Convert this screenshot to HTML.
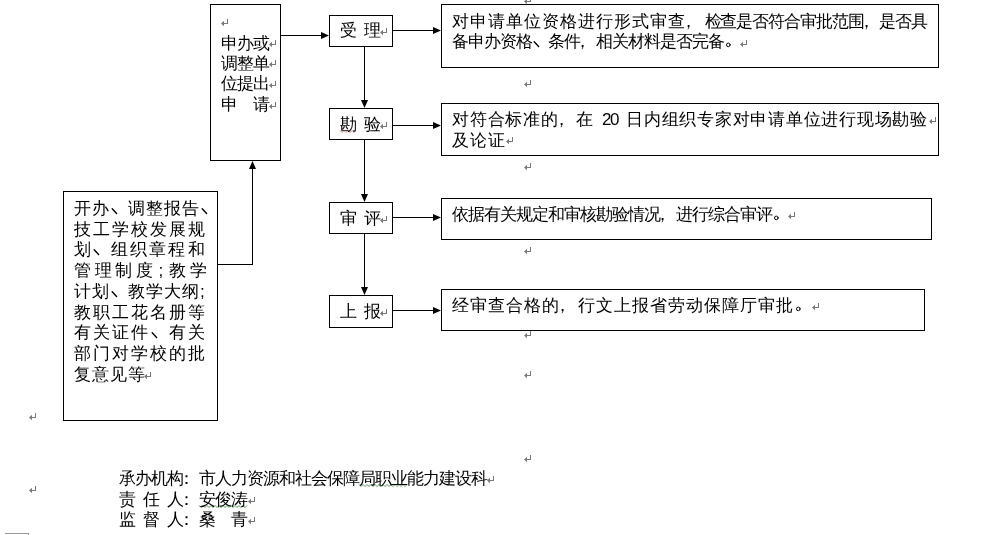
<!DOCTYPE html>
<html><head><meta charset="utf-8">
<style>
html,body{margin:0;padding:0;background:#fff;}
body{width:990px;height:535px;position:relative;overflow:hidden;font-family:"Liberation Sans",sans-serif;font-size:17px;line-height:20px;color:#000;}
b{position:absolute;font-weight:normal;white-space:pre;}
svg{position:absolute;left:0;top:0;}
.t{position:absolute;left:0;top:0;width:990px;height:535px;will-change:transform;}
</style></head><body>
<svg width="990" height="535" viewBox="0 0 990 535">
<g fill="#000" shape-rendering="crispEdges">
<rect x="210" y="4" width="71" height="1"/>
<rect x="210" y="160" width="71" height="1"/>
<rect x="210" y="4" width="1" height="157"/>
<rect x="280" y="4" width="1" height="157"/>
<rect x="63" y="191" width="155" height="1"/>
<rect x="63" y="420" width="155" height="1"/>
<rect x="63" y="191" width="1" height="230"/>
<rect x="217" y="191" width="1" height="230"/>
<rect x="329" y="15" width="64" height="1"/>
<rect x="329" y="46" width="64" height="1"/>
<rect x="329" y="15" width="1" height="32"/>
<rect x="392" y="15" width="1" height="32"/>
<rect x="329" y="108" width="64" height="1"/>
<rect x="329" y="139" width="64" height="1"/>
<rect x="329" y="108" width="1" height="32"/>
<rect x="392" y="108" width="1" height="32"/>
<rect x="329" y="202" width="64" height="1"/>
<rect x="329" y="233" width="64" height="1"/>
<rect x="329" y="202" width="1" height="32"/>
<rect x="392" y="202" width="1" height="32"/>
<rect x="329" y="295" width="64" height="1"/>
<rect x="329" y="327" width="64" height="1"/>
<rect x="329" y="295" width="1" height="33"/>
<rect x="392" y="295" width="1" height="33"/>
<rect x="441" y="4" width="498" height="1"/>
<rect x="441" y="67" width="498" height="1"/>
<rect x="441" y="4" width="1" height="64"/>
<rect x="938" y="4" width="1" height="64"/>
<rect x="441" y="103" width="498" height="1"/>
<rect x="441" y="155" width="498" height="1"/>
<rect x="441" y="103" width="1" height="53"/>
<rect x="938" y="103" width="1" height="53"/>
<rect x="441" y="198" width="491" height="1"/>
<rect x="441" y="239" width="491" height="1"/>
<rect x="441" y="198" width="1" height="42"/>
<rect x="931" y="198" width="1" height="42"/>
<rect x="441" y="289" width="484" height="1"/>
<rect x="441" y="330" width="484" height="1"/>
<rect x="441" y="289" width="1" height="42"/>
<rect x="924" y="289" width="1" height="42"/>
<rect x="280" y="35" width="43" height="1"/>
<polygon shape-rendering="geometricPrecision" points="321,32.0 329,35.5 321,39.0"/>
<rect x="392" y="30" width="43" height="1"/>
<polygon shape-rendering="geometricPrecision" points="433,27.0 441,30.5 433,34.0"/>
<rect x="392" y="125" width="43" height="1"/>
<polygon shape-rendering="geometricPrecision" points="433,122.0 441,125.5 433,129.0"/>
<rect x="392" y="217" width="43" height="1"/>
<polygon shape-rendering="geometricPrecision" points="433,214.0 441,217.5 433,221.0"/>
<rect x="392" y="310" width="43" height="1"/>
<polygon shape-rendering="geometricPrecision" points="433,307.0 441,310.5 433,314.0"/>
<rect x="364" y="46" width="1" height="56"/>
<polygon shape-rendering="geometricPrecision" points="361.0,100 364.5,108 368.0,100"/>
<rect x="364" y="139" width="1" height="57"/>
<polygon shape-rendering="geometricPrecision" points="361.0,194 364.5,202 368.0,194"/>
<rect x="364" y="233" width="1" height="56"/>
<polygon shape-rendering="geometricPrecision" points="361.0,287 364.5,295 368.0,287"/>
<rect x="217" y="264" width="36" height="1"/>
<rect x="252" y="166" width="1" height="99"/>
<polygon shape-rendering="geometricPrecision" points="249.0,169 252.5,161 256.0,169"/>
</g>
<g fill="#7a7a7a"><rect x="275" y="40" width="1" height="5"/><rect x="271" y="44" width="5" height="1"/><polygon points="269,44.5 272,41.8 272,47.2"/><rect x="275" y="60" width="1" height="5"/><rect x="271" y="64" width="5" height="1"/><polygon points="269,64.5 272,61.8 272,67.2"/><rect x="275" y="81" width="1" height="5"/><rect x="271" y="85" width="5" height="1"/><polygon points="269,85.5 272,82.8 272,88.2"/><rect x="275" y="102" width="1" height="5"/><rect x="271" y="106" width="5" height="1"/><polygon points="269,106.5 272,103.8 272,109.2"/><rect x="227" y="19" width="1" height="5"/><rect x="223" y="23" width="5" height="1"/><polygon points="221,23.5 224,20.8 224,26.2"/><rect x="150" y="372" width="1" height="5"/><rect x="146" y="376" width="5" height="1"/><polygon points="144,376.5 147,373.8 147,379.2"/><rect x="386" y="28" width="1" height="5"/><rect x="382" y="32" width="5" height="1"/><polygon points="380,32.5 383,29.8 383,35.2"/><rect x="386" y="122" width="1" height="5"/><rect x="382" y="126" width="5" height="1"/><polygon points="380,126.5 383,123.8 383,129.2"/><rect x="386" y="216" width="1" height="5"/><rect x="382" y="220" width="5" height="1"/><polygon points="380,220.5 383,217.8 383,223.2"/><rect x="386" y="309" width="1" height="5"/><rect x="382" y="313" width="5" height="1"/><polygon points="380,313.5 383,310.8 383,316.2"/><rect x="746" y="40" width="1" height="5"/><rect x="742" y="44" width="5" height="1"/><polygon points="740,44.5 743,41.8 743,47.2"/><rect x="935" y="117" width="1" height="5"/><rect x="931" y="121" width="5" height="1"/><polygon points="929,121.5 932,118.8 932,124.2"/><rect x="512" y="137" width="1" height="5"/><rect x="508" y="141" width="5" height="1"/><polygon points="506,141.5 509,138.8 509,144.2"/><rect x="794" y="212" width="1" height="5"/><rect x="790" y="216" width="5" height="1"/><polygon points="788,216.5 791,213.8 791,219.2"/><rect x="818" y="303" width="1" height="5"/><rect x="814" y="307" width="5" height="1"/><polygon points="812,307.5 815,304.8 815,310.2"/><rect x="493" y="476" width="1" height="5"/><rect x="489" y="480" width="5" height="1"/><polygon points="487,480.5 490,477.8 490,483.2"/><rect x="254" y="497" width="1" height="5"/><rect x="250" y="501" width="5" height="1"/><polygon points="248,501.5 251,498.8 251,504.2"/><rect x="254" y="517" width="1" height="5"/><rect x="250" y="521" width="5" height="1"/><polygon points="248,521.5 251,518.8 251,524.2"/><rect x="530" y="-3" width="1" height="5"/><rect x="526" y="1" width="5" height="1"/><polygon points="524,1.5 527,-1.2 527,4.2"/><rect x="530" y="80" width="1" height="5"/><rect x="526" y="84" width="5" height="1"/><polygon points="524,84.5 527,81.8 527,87.2"/><rect x="530" y="163" width="1" height="5"/><rect x="526" y="167" width="5" height="1"/><polygon points="524,167.5 527,164.8 527,170.2"/><rect x="530" y="247" width="1" height="5"/><rect x="526" y="251" width="5" height="1"/><polygon points="524,251.5 527,248.8 527,254.2"/><rect x="530" y="331" width="1" height="5"/><rect x="526" y="335" width="5" height="1"/><polygon points="524,335.5 527,332.8 527,338.2"/><rect x="530" y="371" width="1" height="5"/><rect x="526" y="375" width="5" height="1"/><polygon points="524,375.5 527,372.8 527,378.2"/><rect x="530" y="455" width="1" height="5"/><rect x="526" y="459" width="5" height="1"/><polygon points="524,459.5 527,456.8 527,462.2"/><rect x="35" y="413" width="1" height="5"/><rect x="31" y="417" width="5" height="1"/><polygon points="29,417.5 32,414.8 32,420.2"/><rect x="35" y="486" width="1" height="5"/><rect x="31" y="490" width="5" height="1"/><polygon points="29,490.5 32,487.8 32,493.2"/></g>
<polyline points="359,484.5 361,486.5 363,484.5 365,486.5 367,484.5 369,486.5 371,484.5 373,486.5 375,484.5 377,486.5 379,484.5 381,486.5 383,484.5 385,486.5 387,484.5 389,486.5 391,484.5 393,486.5 395,484.5 397,486.5 399,484.5 401,486.5 403,484.5 405,486.5 407,484.5" fill="none" stroke="#5a9a5a" stroke-width="1"/>
<polyline points="199,505.5 201,507.5 203,505.5 205,507.5 207,505.5 209,507.5 211,505.5 213,507.5 215,505.5 217,507.5 219,505.5 221,507.5 223,505.5 225,507.5 227,505.5 229,507.5 231,505.5 233,507.5 235,505.5 237,507.5 239,505.5 241,507.5 243,505.5 245,507.5 247,505.5" fill="none" stroke="#5a9a5a" stroke-width="1"/>
<polyline points="340,130.5 342,132.5 344,130.5 346,132.5 348,130.5 350,132.5 352,130.5 354,132.5 356,130.5" fill="none" stroke="#d08080" stroke-width="1"/>
<g stroke="#000" stroke-width="1.4" stroke-linecap="round"><line x1="112.20" y1="208.8" x2="116.60" y2="213.4"/><line x1="202.20" y1="208.8" x2="206.60" y2="213.4"/><line x1="94.20" y1="249.8" x2="98.60" y2="254.4"/><line x1="112.20" y1="291.8" x2="116.60" y2="296.4"/><line x1="152.20" y1="332.8" x2="156.60" y2="337.4"/><line x1="534.20" y1="41.8" x2="538.60" y2="46.4"/><circle cx="728.30" cy="44.9" r="1.8" fill="none" stroke-width="1"/><circle cx="776.30" cy="217.9" r="1.8" fill="none" stroke-width="1"/><circle cx="798.30" cy="308.9" r="1.8" fill="none" stroke-width="1"/></g>
<rect x="5" y="533" width="24" height="1" fill="#999"/><rect x="28" y="533" width="1" height="2" fill="#999"/>
</svg>
<div class="t"><b style="left:221.00px;top:34px">申</b><b style="left:237.00px;top:34px">办</b><b style="left:253.00px;top:34px">或</b><b style="left:221.00px;top:54px">调</b><b style="left:237.00px;top:54px">整</b><b style="left:253.00px;top:54px">单</b><b style="left:221.00px;top:74px">位</b><b style="left:237.00px;top:74px">提</b><b style="left:253.00px;top:74px">出</b><b style="left:221.00px;top:95px">申</b><b style="left:253.00px;top:95px">请</b><b style="left:74.00px;top:199px">开</b><b style="left:92.00px;top:199px">办</b><b style="left:128.00px;top:199px">调</b><b style="left:146.00px;top:199px">整</b><b style="left:164.00px;top:199px">报</b><b style="left:182.00px;top:199px">告</b><b style="left:74.00px;top:220px">技</b><b style="left:93.00px;top:220px">工</b><b style="left:112.00px;top:220px">学</b><b style="left:131.00px;top:220px">校</b><b style="left:150.00px;top:220px">发</b><b style="left:169.00px;top:220px">展</b><b style="left:188.00px;top:220px">规</b><b style="left:74.00px;top:240px">划</b><b style="left:111.00px;top:240px">组</b><b style="left:130.00px;top:240px">织</b><b style="left:149.00px;top:240px">章</b><b style="left:168.00px;top:240px">程</b><b style="left:188.00px;top:240px">和</b><b style="left:74.00px;top:261px">管</b><b style="left:94.50px;top:261px">理</b><b style="left:115.00px;top:261px">制</b><b style="left:135.50px;top:261px">度</b><b style="left:158.50px;top:261px">;</b><b style="left:169.00px;top:261px">教</b><b style="left:190.00px;top:261px">学</b><b style="left:74.00px;top:282px">计</b><b style="left:92.00px;top:282px">划</b><b style="left:128.00px;top:282px">教</b><b style="left:146.00px;top:282px">学</b><b style="left:164.00px;top:282px">大</b><b style="left:182.00px;top:282px">纲</b><b style="left:200.00px;top:282px">;</b><b style="left:74.00px;top:303px">教</b><b style="left:93.00px;top:303px">职</b><b style="left:112.00px;top:303px">工</b><b style="left:131.00px;top:303px">花</b><b style="left:150.00px;top:303px">名</b><b style="left:169.00px;top:303px">册</b><b style="left:188.00px;top:303px">等</b><b style="left:74.00px;top:323px">有</b><b style="left:93.00px;top:323px">关</b><b style="left:112.00px;top:323px">证</b><b style="left:131.00px;top:323px">件</b><b style="left:169.00px;top:323px">有</b><b style="left:188.00px;top:323px">关</b><b style="left:74.00px;top:344px">部</b><b style="left:93.00px;top:344px">门</b><b style="left:112.00px;top:344px">对</b><b style="left:131.00px;top:344px">学</b><b style="left:150.00px;top:344px">校</b><b style="left:169.00px;top:344px">的</b><b style="left:188.00px;top:344px">批</b><b style="left:74.00px;top:365px">复</b><b style="left:92.00px;top:365px">意</b><b style="left:110.00px;top:365px">见</b><b style="left:128.00px;top:365px">等</b><b style="left:340.00px;top:21px">受</b><b style="left:364.00px;top:21px">理</b><b style="left:340.00px;top:115px">勘</b><b style="left:364.00px;top:115px">验</b><b style="left:340.00px;top:209px">审</b><b style="left:364.00px;top:209px">评</b><b style="left:340.00px;top:302px">上</b><b style="left:364.00px;top:302px">报</b><b style="left:452.00px;top:12px">对</b><b style="left:470.00px;top:12px">申</b><b style="left:488.00px;top:12px">请</b><b style="left:506.00px;top:12px">单</b><b style="left:524.00px;top:12px">位</b><b style="left:542.00px;top:12px">资</b><b style="left:560.00px;top:12px">格</b><b style="left:578.00px;top:12px">进</b><b style="left:596.00px;top:12px">行</b><b style="left:614.00px;top:12px">形</b><b style="left:632.00px;top:12px">式</b><b style="left:650.00px;top:12px">审</b><b style="left:668.00px;top:12px">查</b><b style="left:680.00px;top:12px">，</b><b style="left:704.50px;top:12px">检</b><b style="left:720.40px;top:12px">查</b><b style="left:736.30px;top:12px">是</b><b style="left:752.20px;top:12px">否</b><b style="left:768.10px;top:12px">符</b><b style="left:784.00px;top:12px">合</b><b style="left:799.90px;top:12px">审</b><b style="left:815.80px;top:12px">批</b><b style="left:831.70px;top:12px">范</b><b style="left:847.60px;top:12px">围</b><b style="left:857.50px;top:12px">，</b><b style="left:879.40px;top:12px">是</b><b style="left:895.30px;top:12px">否</b><b style="left:911.20px;top:12px">具</b><b style="left:452.00px;top:32px">备</b><b style="left:468.00px;top:32px">申</b><b style="left:484.00px;top:32px">办</b><b style="left:500.00px;top:32px">资</b><b style="left:516.00px;top:32px">格</b><b style="left:548.00px;top:32px">条</b><b style="left:564.00px;top:32px">件</b><b style="left:574.00px;top:32px">，</b><b style="left:596.00px;top:32px">相</b><b style="left:612.00px;top:32px">关</b><b style="left:628.00px;top:32px">材</b><b style="left:644.00px;top:32px">料</b><b style="left:660.00px;top:32px">是</b><b style="left:676.00px;top:32px">否</b><b style="left:692.00px;top:32px">完</b><b style="left:708.00px;top:32px">备</b><b style="left:452.00px;top:110px">对</b><b style="left:469.75px;top:110px">符</b><b style="left:487.50px;top:110px">合</b><b style="left:505.25px;top:110px">标</b><b style="left:523.00px;top:110px">准</b><b style="left:540.75px;top:110px">的</b><b style="left:552.50px;top:110px">，</b><b style="left:576.25px;top:110px">在</b><b style="left:602.00px;top:110px">2</b><b style="left:610.00px;top:110px">0</b><b style="left:626.00px;top:110px">日</b><b style="left:643.75px;top:110px">内</b><b style="left:661.50px;top:110px">组</b><b style="left:679.25px;top:110px">织</b><b style="left:697.00px;top:110px">专</b><b style="left:714.75px;top:110px">家</b><b style="left:732.50px;top:110px">对</b><b style="left:750.25px;top:110px">申</b><b style="left:768.00px;top:110px">请</b><b style="left:785.75px;top:110px">单</b><b style="left:803.50px;top:110px">位</b><b style="left:821.25px;top:110px">进</b><b style="left:839.00px;top:110px">行</b><b style="left:856.75px;top:110px">现</b><b style="left:874.50px;top:110px">场</b><b style="left:892.25px;top:110px">勘</b><b style="left:910.00px;top:110px">验</b><b style="left:452.00px;top:131px">及</b><b style="left:470.00px;top:131px">论</b><b style="left:488.00px;top:131px">证</b><b style="left:452.00px;top:205px">依</b><b style="left:468.00px;top:205px">据</b><b style="left:484.00px;top:205px">有</b><b style="left:500.00px;top:205px">关</b><b style="left:516.00px;top:205px">规</b><b style="left:532.00px;top:205px">定</b><b style="left:548.00px;top:205px">和</b><b style="left:564.00px;top:205px">审</b><b style="left:580.00px;top:205px">核</b><b style="left:596.00px;top:205px">勘</b><b style="left:612.00px;top:205px">验</b><b style="left:628.00px;top:205px">情</b><b style="left:644.00px;top:205px">况</b><b style="left:654.00px;top:205px">，</b><b style="left:676.00px;top:205px">进</b><b style="left:692.00px;top:205px">行</b><b style="left:708.00px;top:205px">综</b><b style="left:724.00px;top:205px">合</b><b style="left:740.00px;top:205px">审</b><b style="left:756.00px;top:205px">评</b><b style="left:452.00px;top:296px">经</b><b style="left:470.00px;top:296px">审</b><b style="left:488.00px;top:296px">查</b><b style="left:506.00px;top:296px">合</b><b style="left:524.00px;top:296px">格</b><b style="left:542.00px;top:296px">的</b><b style="left:554.00px;top:296px">，</b><b style="left:578.00px;top:296px">行</b><b style="left:596.00px;top:296px">文</b><b style="left:614.00px;top:296px">上</b><b style="left:632.00px;top:296px">报</b><b style="left:650.00px;top:296px">省</b><b style="left:668.00px;top:296px">劳</b><b style="left:686.00px;top:296px">动</b><b style="left:704.00px;top:296px">保</b><b style="left:722.00px;top:296px">障</b><b style="left:740.00px;top:296px">厅</b><b style="left:758.00px;top:296px">审</b><b style="left:776.00px;top:296px">批</b><b style="left:119.00px;top:469px">承</b><b style="left:135.00px;top:469px">办</b><b style="left:151.00px;top:469px">机</b><b style="left:167.00px;top:469px">构</b><b style="left:178.00px;top:469px">：</b><b style="left:199.00px;top:469px">市</b><b style="left:215.00px;top:469px">人</b><b style="left:231.00px;top:469px">力</b><b style="left:247.00px;top:469px">资</b><b style="left:263.00px;top:469px">源</b><b style="left:279.00px;top:469px">和</b><b style="left:295.00px;top:469px">社</b><b style="left:311.00px;top:469px">会</b><b style="left:327.00px;top:469px">保</b><b style="left:343.00px;top:469px">障</b><b style="left:359.00px;top:469px">局</b><b style="left:375.00px;top:469px">职</b><b style="left:391.00px;top:469px">业</b><b style="left:407.00px;top:469px">能</b><b style="left:423.00px;top:469px">力</b><b style="left:439.00px;top:469px">建</b><b style="left:455.00px;top:469px">设</b><b style="left:471.00px;top:469px">科</b><b style="left:119.00px;top:490px">责</b><b style="left:143.00px;top:490px">任</b><b style="left:167.00px;top:490px">人</b><b style="left:178.00px;top:490px">：</b><b style="left:199.00px;top:490px">安</b><b style="left:215.00px;top:490px">俊</b><b style="left:231.00px;top:490px">涛</b><b style="left:119.00px;top:510px">监</b><b style="left:143.00px;top:510px">督</b><b style="left:167.00px;top:510px">人</b><b style="left:178.00px;top:510px">：</b><b style="left:199.00px;top:510px">桑</b><b style="left:231.00px;top:510px">青</b></div>
</body></html>
